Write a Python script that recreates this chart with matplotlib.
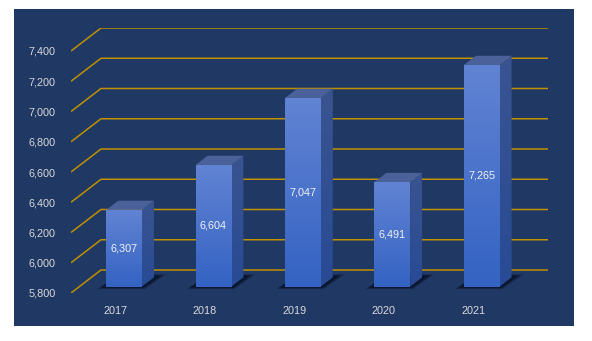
import numpy as np
import matplotlib
matplotlib.use("Agg")
import matplotlib.pyplot as plt
from matplotlib.colors import LinearSegmentedColormap
from matplotlib.patches import Polygon, Rectangle

years = ["2017", "2018", "2019", "2020", "2021"]
values = [6307, 6604, 7047, 6491, 7265]
ticks = [5800, 6000, 6200, 6400, 6600, 6800, 7000, 7200, 7400]

W, H = 592, 341
fig = plt.figure(figsize=(W / 100, H / 100), dpi=100)
fig.patch.set_facecolor("white")

# dark panel behind the chart
fig.patches.append(Rectangle((14 / W, 1 - 326 / H), 560 / W, 317 / H,
                             transform=fig.transFigure, facecolor="#203864",
                             edgecolor="none", zorder=-1))

# front plane of the plot spans x 71..518 px, y 51..293 px
cat_px = (518 - 71) / 5
PX = 1 / cat_px                  # one pixel in category units
PY = 200 / 30.25                 # one pixel in value units
DX = 30 * PX                     # depth offset of the floor/walls
DY = 23 * PY
ymin, ymax = ticks[0], ticks[-1]

ax = fig.add_axes([71 / W, 1 - 293 / H, (548 - 71) / W, (293 - 28) / H])
ax.set_facecolor("none")
for s in ax.spines.values():
    s.set_visible(False)

grid_c = "#bf9000"
for v in ticks:
    ax.plot([-0.5, -0.5 + DX, 4.5 + DX], [v, v + DY, v + DY],
            color=grid_c, lw=1.1, zorder=1, solid_capstyle="butt")

front_cm = LinearSegmentedColormap.from_list("front", ["#3463c3", "#6183d3"])
side_cm = LinearSegmentedColormap.from_list("side", ["#284b95", "#3a5490"])
grad = np.linspace(0, 1, 256).reshape(-1, 1)

d0 = 0.28      # depth of the bar's front face
bd = 0.4       # bar depth
hw = 0.2       # half width of the front face

for i, (yr, v) in enumerate(zip(years, values)):
    cx = i + d0 * DX
    x0, x1 = cx - hw, cx + hw
    b = ymin + d0 * DY
    t = v + d0 * DY
    ox, oy = bd * DX, bd * DY

    # soft shadow on the floor, wider than the footprint
    for k in range(8):
        s = 1 - k / 8
        pts = [(x0 - (3 + 6 * s) * PX, b - (0.5 + 2 * s) * PY),
               (x1 + (1 + 2 * s) * PX, b - (0.5 + 2 * s) * PY),
               (x1 + ox + (4 + 8 * s) * PX, b + oy + (1 + 2 * s) * PY),
               (x0 + ox, b + oy + (1 + 2 * s) * PY)]
        ax.add_patch(Polygon(pts, closed=True, facecolor="#040a1c",
                             edgecolor="none", alpha=0.14, zorder=2))

    # front face
    ax.imshow(grad, extent=[x0, x1, b, t], origin="lower", cmap=front_cm,
              aspect="auto", zorder=4, interpolation="bilinear")

    # side face
    side = Polygon([(x1, b), (x1 + ox, b + oy), (x1 + ox, t + oy), (x1, t)],
                   closed=True, facecolor="none", edgecolor="none")
    ax.add_patch(side)
    ims = ax.imshow(grad, extent=[x1, x1 + ox, b, t + oy], origin="lower",
                    cmap=side_cm, aspect="auto", zorder=3, interpolation="bilinear")
    ims.set_clip_path(side)

    # top face
    ax.add_patch(Polygon([(x0, t), (x1, t), (x1 + ox, t + oy), (x0 + ox, t + oy)],
                         closed=True, facecolor="#4a6299", edgecolor="none",
                         zorder=3))

    ax.text(cx, (b + t) / 2, f"{v:,}", ha="center", va="center",
            color="#f2f2f2", fontsize=7.8, family="Liberation Sans", zorder=5)

ax.set_xlim(-0.5, 4.5 + DX)
ax.set_ylim(ymin, ymax + DY)
ax.set_yticks(ticks)
ax.set_yticklabels([f"{t:,}" for t in ticks])
ax.set_xticks(range(len(years)))
ax.set_xticklabels(years)
ax.tick_params(length=0, colors="#d9d9d9", labelsize=7.8)
ax.tick_params(axis="y", pad=11)
ax.tick_params(axis="x", pad=9)
for lab in ax.get_xticklabels() + ax.get_yticklabels():
    lab.set_family("Liberation Sans")

fig.savefig("out.png", dpi=100)
